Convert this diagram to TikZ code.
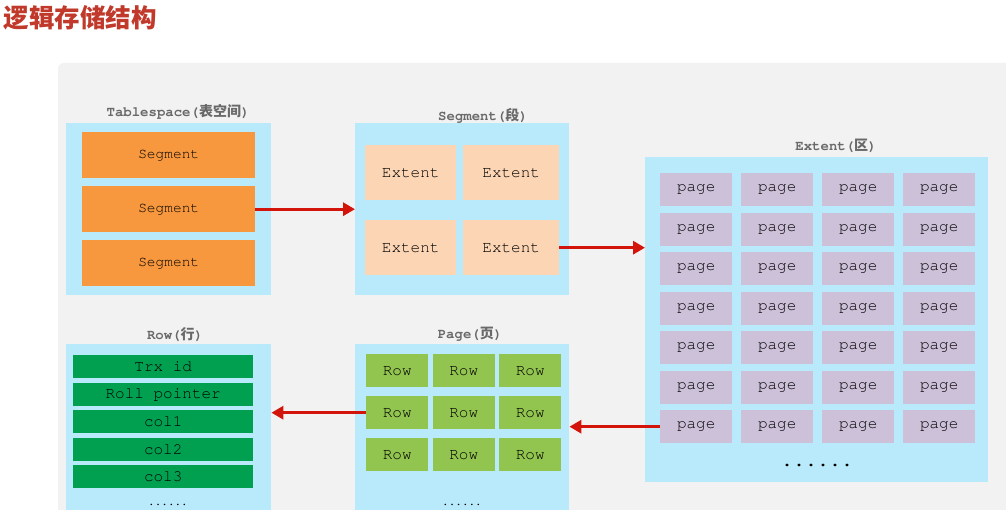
\documentclass[tikz,border=0pt]{standalone}
\usepackage{fontspec}
\setmonofont{Liberation Mono}
\newfontfamily\cjk{Noto Sans CJK SC}
\newcommand{\courier}{\fontencoding{T1}\fontfamily{pcr}\selectfont}
\usetikzlibrary{arrows.meta, calc}

\definecolor{titlered}{RGB}{192,57,43}
\definecolor{panelgray}{RGB}{242,242,242}
\definecolor{skyblue}{RGB}{185,234,252}
\definecolor{segorange}{RGB}{247,152,62}
\definecolor{extpeach}{RGB}{252,213,180}
\definecolor{pagelilac}{RGB}{205,193,218}
\definecolor{rowgreen}{RGB}{146,196,80}
\definecolor{fieldgreen}{RGB}{0,160,80}
\definecolor{headgray}{RGB}{105,105,105}
\definecolor{arrowred}{RGB}{210,20,10}

\tikzstyle{frame}    = [rectangle, fill=skyblue, anchor=north west, inner sep=0pt]
\tikzstyle{cell}     = [rectangle, anchor=north west, inner sep=0pt, text=black, font=\courier\fontsize{16}{16}\selectfont]
\tikzstyle{segcell}  = [cell, fill=segorange, minimum width=173pt, minimum height=46pt, font=\courier\fontsize{14.5}{14.5}\selectfont]
\tikzstyle{extcell}  = [cell, fill=extpeach, minimum width=91pt, minimum height=55pt]
\tikzstyle{pagecell} = [cell, fill=pagelilac, minimum width=72pt, minimum height=33pt]
\tikzstyle{rowcell}  = [cell, fill=rowgreen, minimum width=62pt, minimum height=33pt]
\tikzstyle{fieldcell}= [cell, fill=fieldgreen, minimum width=180pt, minimum height=23pt]
\tikzstyle{heading}  = [text=headgray, font=\courier\bfseries\fontsize{14}{14}\selectfont]
\tikzstyle{arrow}    = [line width=3.2pt, arrowred, -{Triangle[length=12pt,width=13pt]}]

\begin{document}
\begin{tikzpicture}[x=1pt, y=-1pt]
  \clip (0,0) rectangle (1006,510);
  \fill[white] (0,0) rectangle (1006,510);

  % Title and panel
  \node[anchor=west, text=titlered, font=\cjk\bfseries\fontsize{25.5}{25.5}\selectfont] (title) at (0,18) {逻辑存储结构};
  \fill[panelgray, rounded corners=6pt] (58,63) rectangle (1040,550);

  % Tablespace
  \node[heading] (tshead) at (178,111) {Tablespace({\cjk 表空间})};
  \node[frame, minimum width=205pt, minimum height=172pt] (tsbox) at (66,123) {};
  \node[segcell] (seg1) at (82,132) {Segment};
  \node[segcell] (seg2) at (82,186) {Segment};
  \node[segcell] (seg3) at (82,240) {Segment};

  % Segment
  \node[heading] (seghead) at (483,115) {Segment({\cjk 段})};
  \node[frame, minimum width=214pt, minimum height=172pt] (segbox) at (355,123) {};
  \node[extcell] (ext1) at (365,145) {Extent};
  \node[extcell, minimum width=96pt] (ext2) at (463,145) {Extent};
  \node[extcell] (ext3) at (365,220) {Extent};
  \node[extcell, minimum width=96pt] (ext4) at (463,220) {Extent};

  % Extent
  \node[heading] (exthead) at (836,146) {Extent({\cjk 区})};
  \node[frame, minimum width=343pt, minimum height=325pt] (extbox) at (645,157) {};
  \foreach \c in {1,...,4}
    \foreach \r in {1,...,7}
      \node[pagecell] (pg-\c-\r) at ({660+81*(\c-1)}, {173+39.5*(\r-1)}) {page};
  \node[font=\courier\bfseries\fontsize{20}{20}\selectfont] (extdots) at (817,465) {......};

  % Page
  \node[heading] (pagehead) at (470,334) {Page({\cjk 页})};
  \node[frame, minimum width=214pt, minimum height=200pt] (pagebox) at (355,344) {};
  \foreach \c in {1,...,3}
    \foreach \r in {1,...,3}
      \node[rowcell] (rw-\c-\r) at ({366+66.5*(\c-1)}, {354+42*(\r-1)}) {Row};
  \node[font=\courier\bfseries\fontsize{11}{11}\selectfont] (pagedots) at (462,505) {......};

  % Row
  \node[heading] (rowhead) at (175,334) {Row({\cjk 行})};
  \node[frame, minimum width=205pt, minimum height=200pt] (rowbox) at (66,344) {};
  \foreach \t [count=\k] in {Trx id, Roll pointer, col1, col2, col3}
    \node[fieldcell] (fld\k) at (73, {355+27.5*(\k-1)}) {\t};
  \node[font=\courier\bfseries\fontsize{11}{11}\selectfont] (rowdots) at (168,505) {......};

  % Connections
  \draw[arrow] (seg2.east) -- (seg2.east -| segbox.west);
  \draw[arrow] (ext4.east) -- (ext4.east -| extbox.west);
  \draw[arrow] (pg-1-7.west) -- (pg-1-7.west -| pagebox.east);
  \draw[arrow] (rw-1-2.west) -- (rw-1-2.west -| rowbox.east);
\end{tikzpicture}
\end{document}
